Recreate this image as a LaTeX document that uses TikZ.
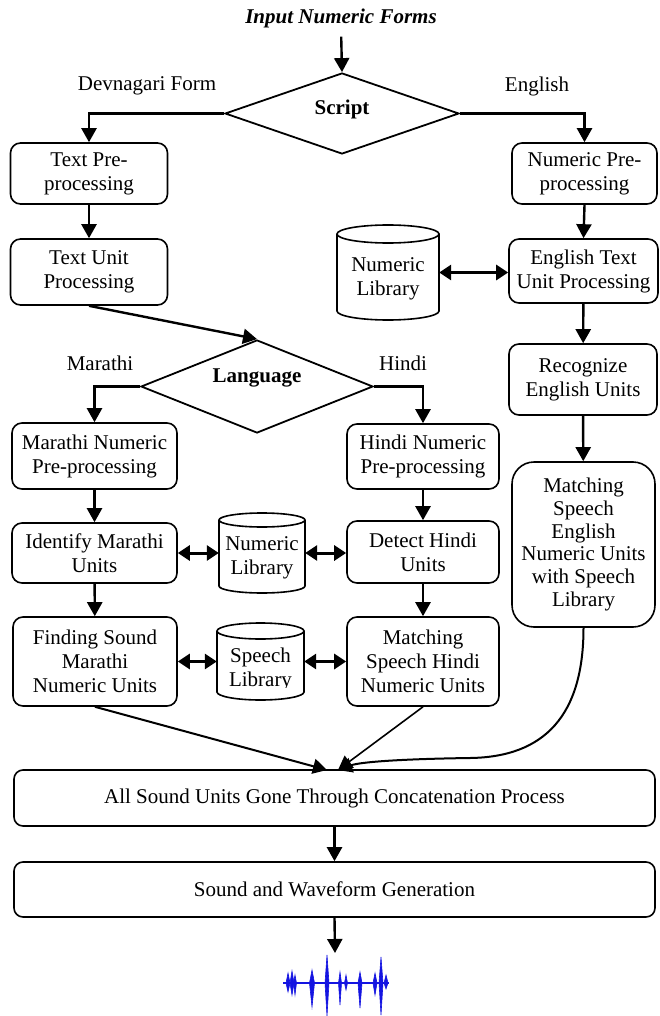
\documentclass[tikz,border=0pt]{standalone}
\usepackage{fontspec}
\setmainfont{Liberation Serif}
\usetikzlibrary{arrows.meta,shapes.geometric}
\newcommand{\bodyfont}{\fontsize{21}{24}\selectfont}
% drum (database) outline: left x, right x, top y, bottom y, cap radius
\newcommand{\drawdrum}[5]{%
  \draw[line width=1.6pt] ({(#1+#2)/2},{#3+#5}) ellipse [x radius={(#2-#1)/2*1pt}, y radius=#5pt];
  \draw[line width=1.6pt] (#1,{#3+#5}) -- (#1,{#4-#5})
    .. controls (#1,{#4-0.448*#5}) and ({(#1+#2)/2-0.276*(#2-#1)},#4) .. ({(#1+#2)/2},#4)
    .. controls ({(#1+#2)/2+0.276*(#2-#1)},#4) and (#2,{#4-0.448*#5}) .. (#2,{#4-#5})
    -- (#2,{#3+#5});
}
\definecolor{wavecol}{RGB}{20,20,225}
\begin{document}
\begin{tikzpicture}[x=1pt,y=-1pt,
  every node/.style={font=\bodyfont},
  box/.style={draw,line width=1.6pt,rounded corners=10pt,align=center,inner sep=0pt},
  decision/.style={draw,diamond,line width=1.8pt,inner sep=0pt,aspect=2.5},
  drum/.style={inner sep=0pt},
  lbl/.style={align=center,inner sep=0pt},
  bold/.style={lbl,font=\bodyfont\bfseries},
  arr/.style={line width=2.4pt,-{Triangle[length=14pt,width=15pt]}},
  biarr/.style={line width=3pt,{Triangle[length=12pt,width=15pt]}-{Triangle[length=12pt,width=15pt]}},
  wavefill/.style={fill=wavecol,draw=wavecol,line width=0.6pt},
]
\useasboundingbox (0,0) rectangle (660,1016);

% ---------- input and script decision ----------
\node[lbl,font=\bodyfont\bfseries\itshape] (title) at (341,18) {Input Numeric Forms};
\node[decision,minimum width=234pt,minimum height=81pt] (script) at (342,113.5) {};
\node[bold] (scripttxt) at (342,109) {Script};
\node[lbl] (devlbl) at (147,86) {Devnagari Form};
\node[lbl] (englbl) at (537,86) {English};

% ---------- Devnagari path ----------
\node[box,minimum width=157pt,minimum height=61pt] (tp) at (89,173.5) {Text Pre-\\processing};
\node[box,minimum width=157pt,minimum height=66pt] (tu) at (89,272) {Text Unit\\Processing};

% ---------- English path ----------
\node[box,minimum width=145pt,minimum height=61pt] (np) at (584.5,173.5) {Numeric Pre-\\processing};
\node[box,minimum width=149pt,minimum height=64pt] (etu) at (583.5,271) {English Text\\Unit Processing};
\node[box,minimum width=148pt,minimum height=71pt] (reu) at (583,379.5) {Recognize\\English Units};
\node[box,rounded corners=22pt,minimum width=143pt,minimum height=165pt,font=\fontsize{21}{22.7}\selectfont] (me) at (583.5,544.5)
  {Matching\\Speech\\English\\Numeric Units\\with Speech\\Library};

\drawdrum{337}{439}{225}{320}{9}
\node[drum,minimum width=102pt,minimum height=95pt] (nl1) at (388,272.5) {};
\node[lbl] (nl1txt) at (388,278.5) {Numeric\\Library};

% ---------- language decision ----------
\node[decision,minimum width=232pt,minimum height=93pt] (lang) at (257,386.5) {};
\node[bold] (langtxt) at (257,378) {Language};
\node[lbl] (marlbl) at (100,363) {Marathi};
\node[lbl] (hinlbl) at (403,363) {Hindi};

% ---------- Marathi column ----------
\node[box,minimum width=165pt,minimum height=66pt] (mnp) at (94.5,456) {Marathi Numeric\\Pre-processing};
\node[box,minimum width=165pt,minimum height=60pt] (imu) at (94.5,553) {Identify Marathi\\Units};
\node[box,minimum width=164pt,minimum height=89pt] (fs) at (95,661.5) {Finding Sound\\Marathi\\Numeric Units};

% ---------- Hindi column ----------
\node[box,minimum width=152pt,minimum height=65pt] (hnp) at (423,456.5) {Hindi Numeric\\Pre-processing};
\node[box,minimum width=152pt,minimum height=62pt] (dhu) at (423,552) {Detect Hindi\\Units};
\node[box,minimum width=152pt,minimum height=89pt] (msh) at (423,661.5) {Matching\\Speech Hindi\\Numeric Units};

% ---------- shared libraries ----------
\drawdrum{219}{305}{513}{593}{7}
\node[drum,minimum width=86pt,minimum height=80pt] (nl2) at (262,553) {};
\node[lbl] (nl2txt) at (262,557.5) {Numeric\\Library};
\drawdrum{217}{304}{623}{700}{8}
\node[drum,minimum width=87pt,minimum height=77pt] (sl) at (260.5,661.5) {};
\begin{scope}
  \clip (200,600) rectangle (320,687);
  \node[lbl] (sltxt) at (260.5,669) {Speech\\Library};
\end{scope}

% ---------- output stages ----------
\node[box,rounded corners=9pt,minimum width=641pt,minimum height=56pt] (concat) at (334.5,798)
  {All Sound Units Gone Through Concatenation Process};
\node[box,rounded corners=9pt,minimum width=641pt,minimum height=55pt] (gen) at (334.5,889.5)
  {Sound and Waveform Generation};
\coordinate (inL) at (327,770);
\coordinate (inR) at (338,770);
\coordinate (wavein) at (335,953);

% ---------- connectors ----------
\draw[arr,shorten <=9pt] (title.south) -- (script.north);
\draw[arr] (script.west) -| (tp.north);
\draw[arr] (script.east) -| (np.north);
\draw[arr] (tp) -- (tu);
\draw[arr] (np.south) -- (etu.north);
\draw[biarr] (nl1.east) -- (nl1.east -| etu.west);
\draw[arr] (etu) -- (reu);
\draw[arr] (reu) -- (me);
\draw[arr] (tu.south) -- (lang.north);
\draw[arr] (lang.west) -| (mnp.north);
\draw[arr] (lang.east) -| (hnp.north);
\draw[arr] (mnp) -- (imu);
\draw[arr] (imu) -- (fs);
\draw[arr] (hnp) -- (dhu);
\draw[arr] (dhu) -- (msh);
\draw[biarr] (imu.east |- nl2.west) -- (nl2.west);
\draw[biarr] (nl2.east) -- (nl2.east -| dhu.west);
\draw[biarr] (fs.east |- sl.west) -- (sl.west);
\draw[biarr] (sl.east) -- (sl.east -| msh.west);
\draw[arr,line width=2pt] (fs.south) -- (inL);
\draw[arr,line width=1.6pt] (msh.south) -- (inR);
\draw[arr,line width=2pt] (me.south) .. controls (583.5,715) and (545,757) .. (470,758)
  .. controls (400,759) and (360,762) .. (inR);
\draw[arr] (concat) -- (gen);
\draw[arr] (gen.south) -- (wavein);

% ---------- output waveform ----------
\draw[wavecol,line width=2pt] (283,983) -- (389,983);
\foreach \x/\u/\d/\w in {288/10/9/2, 292/12/12/2, 295/8/12/1.5, 312/13/24/2.5, 327/28/33/2,
                        340/11/22/1.5, 346/8/7/1.5, 360/11/25/2, 375/10/12/2, 381/26/32/2, 386/8/6/2}{
  \filldraw[wavefill] ({\x-\w},983) -- (\x,{983-\u}) -- ({\x+\w},983) -- (\x,{983+\d}) -- cycle;
}
\end{tikzpicture}
\end{document}
